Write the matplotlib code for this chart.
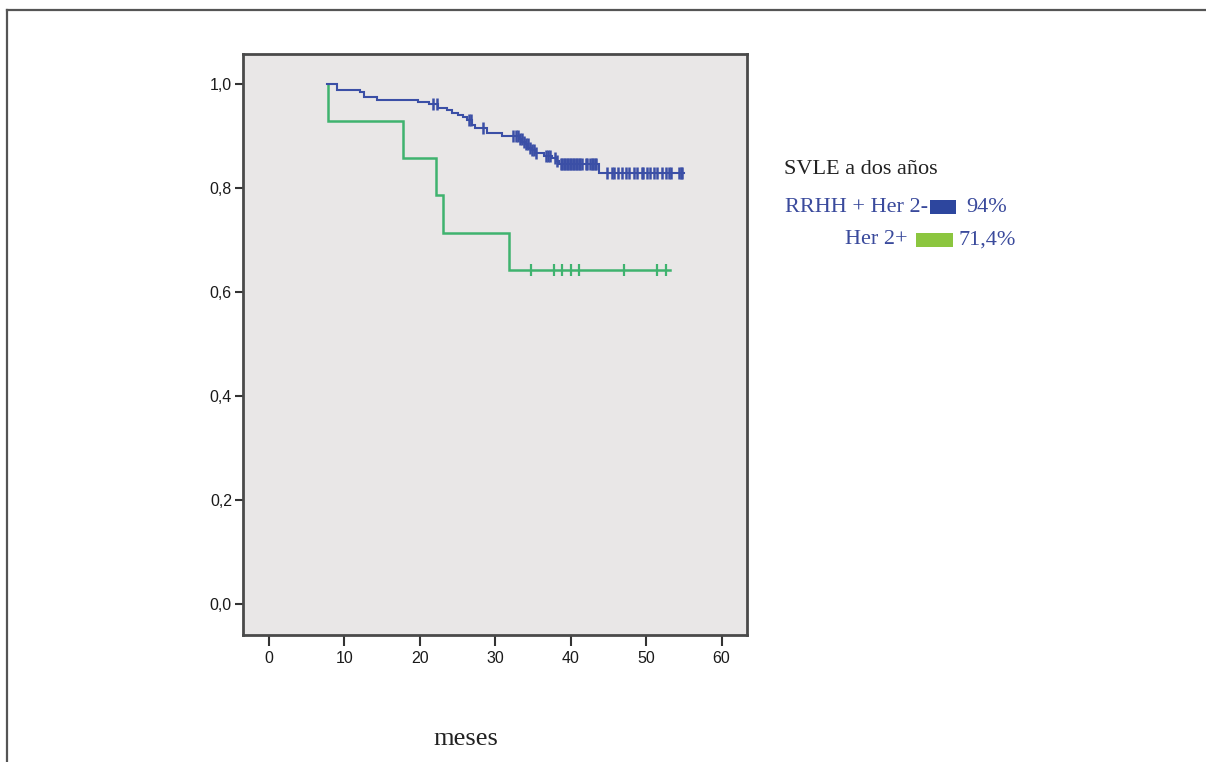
import numpy as np
import matplotlib
matplotlib.use("Agg")
import matplotlib.pyplot as plt
from matplotlib.patches import Rectangle
from matplotlib.lines import Line2D

# ---- data ----
# RRHH + Her 2- (blue): step times and survival after each step
blue_start = 7.7
blue_end = 55.0
blue_times = [9.1, 12.1, 12.6, 14.4, 19.8, 21.2, 22.4, 23.6, 24.3, 25.1, 25.8, 26.3,
              26.9, 27.3, 28.9, 30.9, 33.2, 33.6, 34.0, 34.4, 34.8, 35.3, 36.5, 37.6,
              38.0, 38.4, 43.7]
blue_surv = [0.989, 0.984, 0.976, 0.970, 0.965, 0.961, 0.954, 0.950, 0.945, 0.941, 0.936,
             0.931, 0.922, 0.915, 0.907, 0.900, 0.895, 0.889, 0.884, 0.878, 0.873, 0.868,
             0.862, 0.857, 0.852, 0.846, 0.830]
blue_censor = [21.8, 22.3, 26.5, 26.8, 28.4, 32.4, 32.8,
               33.0, 33.3, 33.5, 33.8, 34.1, 34.3, 34.6, 34.9, 35.1, 35.4, 36.8, 37.0,
               37.3, 37.9, 38.2,
               38.7, 38.9, 39.1, 39.3, 39.5, 39.7, 39.9, 40.1, 40.3, 40.5, 40.7, 40.9,
               41.1, 41.3, 41.5, 42.0, 42.2, 42.6, 42.8, 43.0, 43.2, 43.4,
               44.8, 45.5, 45.8, 46.3, 46.8, 47.4, 47.7, 48.4, 48.8, 49.4, 49.6, 50.1,
               50.5, 51.1, 51.5, 52.1, 52.7, 53.0, 53.3, 54.4, 54.6, 54.8]

# Her 2+ (green)
green_start = 7.8
green_end = 53.1
green_times = [7.8, 17.8, 22.2, 23.1, 31.9]
green_surv = [0.929, 0.857, 0.786, 0.714, 0.643]
green_censor = [34.8, 37.8, 38.9, 40.0, 41.1, 47.1, 51.4, 52.6]

x_ticks = [0, 10, 20, 30, 40, 50, 60]
y_ticks = [0.0, 0.2, 0.4, 0.6, 0.8, 1.0]
y_ticklabels = ["0,0", "0,2", "0,4", "0,6", "0,8", "1,0"]

legend_title = "SVLE a dos años"
legend_labels = ["RRHH + Her 2-", "Her 2+"]
legend_values = ["94%", "71,4%"]
x_label = "meses"

BLUE = "#3b4fa6"
GREEN = "#3fb36f"
BLUE_SQ = "#2d469e"
GREEN_SQ = "#8cc63f"
TXT_BLUE = "#3a4a9c"

W, H = 1206, 762
fig = plt.figure(figsize=(W / 100, H / 100), dpi=100)
fig.patch.set_facecolor("white")

def fx(px):
    return px / W

def fy(py):
    return 1 - py / H

ax = fig.add_axes([fx(243), fy(634.6), fx(746.5) - fx(243), fy(54) - fy(634.6)])
ax.set_facecolor("#e9e7e7")


def step_xy(start, end, times, surv):
    xs = [start]
    ys = [1.0]
    level = 1.0
    for t, s in zip(times, surv):
        xs += [t, t]
        ys += [level, s]
        level = s
    xs.append(end)
    ys.append(level)
    return np.array(xs), np.array(ys)


def level_at(t, start, times, surv):
    idx = np.searchsorted(np.array(times), t, side="right")
    return 1.0 if idx == 0 else surv[idx - 1]


bx, by = step_xy(blue_start, blue_end, blue_times, blue_surv)
gx, gy = step_xy(green_start, green_end, green_times, green_surv)

ax.plot(gx, gy, color=GREEN, lw=1.8, solid_joinstyle="miter")
ax.plot(bx, by, color=BLUE, lw=1.5, solid_joinstyle="miter")

gcy = [level_at(t, green_start, green_times, green_surv) for t in green_censor]
bcy = [level_at(t, blue_start, blue_times, blue_surv) for t in blue_censor]
ax.plot(green_censor, gcy, ls="none", marker="|", ms=8, mew=1.6, color=GREEN)
ax.plot(blue_censor, bcy, ls="none", marker="|", ms=8, mew=1.8, color=BLUE)

ax.set_xlim(-3.4, 63.3)
ax.set_ylim(-0.0588, 1.058)

tick_font = ["Liberation Sans Narrow", "Liberation Sans", "DejaVu Sans"]
ax.set_xticks(x_ticks)
ax.set_xticklabels([str(v) for v in x_ticks], family=tick_font, fontsize=11.5, color="#1a1a1a")
ax.set_yticks(y_ticks)
ax.set_yticklabels(y_ticklabels, family=tick_font, fontsize=11.5, color="#1a1a1a")
ax.tick_params(axis="x", direction="out", length=8, width=1.5, pad=4, color="#333333")
ax.tick_params(axis="y", direction="out", length=6, width=1.5, pad=2, color="#333333")

for sp in ax.spines.values():
    sp.set_linewidth(2)
    sp.set_color("#4a4a4a")

# x label
fig.text(fx(466), fy(739), x_label, family="Liberation Serif", fontsize=19,
         ha="center", va="center", color="#222222")

# legend-like annotation
serif = "Liberation Serif"
fig.text(fx(784), fy(169), legend_title, family=serif, fontsize=16,
         ha="left", va="center", color="#222222")
fig.text(fx(928), fy(207), legend_labels[0], family=serif, fontsize=16,
         ha="right", va="center", color=TXT_BLUE)
fig.text(fx(908), fy(240), legend_labels[1], family=serif, fontsize=16,
         ha="right", va="center", color=TXT_BLUE)
fig.text(fx(966), fy(207), legend_values[0], family=serif, fontsize=16,
         ha="left", va="center", color=TXT_BLUE)
fig.text(fx(958), fy(240), legend_values[1], family=serif, fontsize=16,
         ha="left", va="center", color=TXT_BLUE)

fig.patches.append(Rectangle((fx(930), fy(214)), fx(956) - fx(930), fy(200) - fy(214),
                             transform=fig.transFigure, color=BLUE_SQ, lw=0))
fig.patches.append(Rectangle((fx(916), fy(247)), fx(953) - fx(916), fy(233) - fy(247),
                             transform=fig.transFigure, color=GREEN_SQ, lw=0))

# outer border lines (top and left)
fig.lines.append(Line2D([fx(7), 1.0], [fy(10), fy(10)], transform=fig.transFigure,
                        color="#555555", lw=1.6))
fig.lines.append(Line2D([fx(7), fx(7)], [fy(10), 0.0], transform=fig.transFigure,
                        color="#555555", lw=1.6))

fig.savefig("out.png", dpi=100)
